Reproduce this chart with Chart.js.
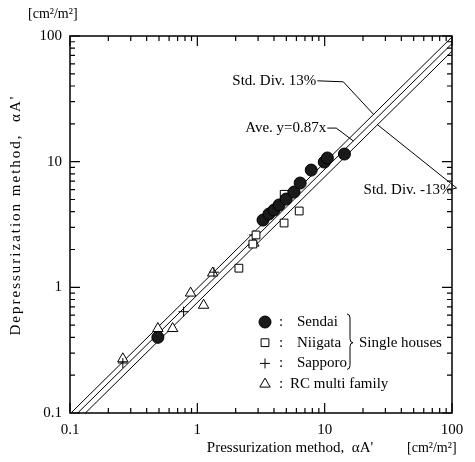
<!DOCTYPE html>
<html>
<head>
<meta charset="utf-8">
<script src="https://cdn.jsdelivr.net/npm/chart.js@4/dist/chart.umd.min.js"></script>
<style>
html,body{margin:0;padding:0;background:#fff;}
#wrap{width:475px;height:462px;}
</style>
</head>
<body>
<div id="wrap"><canvas id="c" width="475" height="462"></canvas></div>
<script>
// ---- data ----
const decadeTicks = [0.1, 1, 10, 100];
const sendaiX = [0.49, 3.28, 3.65, 4.0, 4.38, 4.98, 5.75, 6.42, 7.84, 9.93, 10.5, 14.3];
const sendaiY = [0.40, 3.43, 3.83, 4.12, 4.52, 5.04, 5.73, 6.76, 8.57, 9.93, 10.7, 11.5];
const niigataX = [4.81, 6.31, 4.80, 2.89, 2.73, 2.12];
const niigataY = [5.50, 4.05, 3.25, 2.61, 2.21, 1.42];
const sapporoX = [0.26, 0.78, 1.35, 2.78];
const sapporoY = [0.25, 0.64, 1.32, 2.61];
const rcX = [0.26, 0.49, 0.64, 1.12, 0.885, 1.32, 2.78];
const rcY = [0.27, 0.47, 0.47, 0.72, 0.90, 1.30, 2.25];
const lineEndsX = [0.1, 100];
const lineSlopes = [0.87 * 1.13, 0.87, 0.87 * 0.87]; // +13%, average, -13%
const legendLabels = ['Sendai', 'Niigata', 'Sapporo', 'RC multi family'];
const groupLabel = 'Single houses';
const xTitle = "Pressurization method,  \u03B1A'";
const yTitle = "Depressurization method,  \u03B1A'";
const unitLabel = '[cm\u00B2/m\u00B2]';
// annotation anchors in data coordinates
const annStdPlus = { text: 'Std. Div. 13%', x: 8.6, y: 44, target: 24.2 };
const annAve = { text: 'Ave. y=0.87x', x: 10.3, y: 18.5, target: 16.8 };
const annStdMinus = { text: 'Std. Div. -13%', x: 20.2, y: 5.95, target: 26 };

const pts = (xs, ys) => xs.map((v, i) => ({ x: v, y: ys[i] }));
const FONT = "'Liberation Serif', 'DejaVu Serif', serif";

const lineDatasets = lineSlopes.map(k => ({
  type: 'line',
  data: lineEndsX.map(v => ({ x: v, y: k * v })),
  borderColor: '#000', borderWidth: 1, pointRadius: 0, fill: false, tension: 0, order: 5
}));

const overlay = {
  id: 'overlay',
  afterDatasetsDraw(chart) {
    const ctx = chart.ctx, a = chart.chartArea, xs = chart.scales.x, ys = chart.scales.y;
    ctx.save();
    // frame
    ctx.strokeStyle = '#000';
    ctx.lineWidth = 1.5;
    ctx.strokeRect(a.left, a.top, a.right - a.left, a.bottom - a.top);
    // ticks (inside, all four sides)
    ctx.lineWidth = 1.2;
    const minorVals = [];
    decadeTicks.slice(0, -1).forEach(d => { for (let m = 2; m <= 9; m++) minorVals.push(d * m); });
    const drawTicks = (vals, len) => {
      vals.forEach(v => {
        const px = xs.getPixelForValue(v);
        const py = ys.getPixelForValue(v);
        ctx.beginPath();
        ctx.moveTo(px, a.bottom); ctx.lineTo(px, a.bottom - len);
        ctx.moveTo(px, a.top); ctx.lineTo(px, a.top + len);
        ctx.moveTo(a.left, py); ctx.lineTo(a.left + len, py);
        ctx.moveTo(a.right, py); ctx.lineTo(a.right - len, py);
        ctx.stroke();
      });
    };
    drawTicks(minorVals, 5);
    drawTicks(decadeTicks, 10);

    // axis titles
    ctx.fillStyle = '#000';
    ctx.font = '15px ' + FONT;
    ctx.textBaseline = 'middle';
    ctx.textAlign = 'center';
    ctx.fillText(xTitle, 290, a.bottom + 35);
    ctx.textAlign = 'left';
    ctx.font = '14px ' + FONT;
    ctx.fillText(unitLabel, a.right - 45, a.bottom + 35);
    ctx.fillText(unitLabel, a.left - 42, a.top - 22);
    ctx.save();
    ctx.font = '15px ' + FONT;
    ctx.translate(16, 215);
    ctx.rotate(-Math.PI / 2);
    ctx.textAlign = 'center';
    if ('letterSpacing' in ctx) ctx.letterSpacing = '2px';
    ctx.fillText(yTitle, 0, 0);
    ctx.restore();

    // annotations
    ctx.font = '15px ' + FONT;
    ctx.lineWidth = 1;
    ctx.strokeStyle = '#000';
    const linePt = (k, xv) => [xs.getPixelForValue(xv), ys.getPixelForValue(k * xv)];
    // +13%
    let tx = xs.getPixelForValue(annStdPlus.x), ty = ys.getPixelForValue(annStdPlus.y);
    ctx.textAlign = 'right';
    ctx.fillText(annStdPlus.text, tx, ty);
    let p = linePt(lineSlopes[0], annStdPlus.target);
    ctx.beginPath();
    ctx.moveTo(tx + 1, ty); ctx.lineTo(tx + 27, ty + 1); ctx.lineTo(p[0], p[1]);
    ctx.stroke();
    // average
    tx = xs.getPixelForValue(annAve.x); ty = ys.getPixelForValue(annAve.y);
    ctx.fillText(annAve.text, tx, ty);
    p = linePt(lineSlopes[1], annAve.target);
    ctx.beginPath();
    ctx.moveTo(tx + 1, ty); ctx.lineTo(tx + 10, ty); ctx.lineTo(p[0], p[1]);
    ctx.stroke();
    // -13%
    tx = xs.getPixelForValue(annStdMinus.x); ty = ys.getPixelForValue(annStdMinus.y);
    ctx.textAlign = 'left';
    ctx.fillText(annStdMinus.text, tx, ty);
    const tw = ctx.measureText(annStdMinus.text).width;
    p = linePt(lineSlopes[2], annStdMinus.target);
    ctx.beginPath();
    ctx.moveTo(tx + tw, ty - 1); ctx.lineTo(tx + tw + 4, ty - 2); ctx.lineTo(p[0], p[1]);
    ctx.stroke();

    // legend
    const lx = a.left + 195, ly0 = a.top + 286, dy = 20.7;
    const ds = chart.data.datasets;
    for (let i = 0; i < 4; i++) {
      const y = ly0 + i * dy;
      const d = ds[i];
      ctx.fillStyle = d.backgroundColor; ctx.strokeStyle = d.borderColor; ctx.lineWidth = d.borderWidth;
      Chart.helpers.drawPoint(ctx, {
        pointStyle: d.pointStyle, radius: d.pointRadius, rotation: 0, borderWidth: d.borderWidth
      }, lx, y);
      ctx.fillStyle = '#000';
      ctx.textAlign = 'left';
      ctx.fillText(':', lx + 14, y);
      ctx.fillText(legendLabels[i], i === 3 ? lx + 25 : lx + 32, y);
    }
    // brace for single houses
    const bx = lx + 85, btop = ly0 - 8, bbot = ly0 + 2 * dy + 6, bmid = ly0 + dy;
    ctx.strokeStyle = '#000'; ctx.lineWidth = 1;
    ctx.beginPath();
    ctx.moveTo(bx - 3, btop);
    ctx.quadraticCurveTo(bx, btop, bx, btop + 4);
    ctx.lineTo(bx, bmid - 4);
    ctx.quadraticCurveTo(bx, bmid, bx + 3, bmid);
    ctx.quadraticCurveTo(bx, bmid, bx, bmid + 4);
    ctx.lineTo(bx, bbot - 4);
    ctx.quadraticCurveTo(bx, bbot, bx - 3, bbot);
    ctx.stroke();
    ctx.fillText(groupLabel, bx + 9, bmid);
    ctx.restore();
  }
};

new Chart(document.getElementById('c'), {
  type: 'scatter',
  data: {
    datasets: [
      { label: legendLabels[0], data: pts(sendaiX, sendaiY), pointStyle: 'circle', pointRadius: 6,
        backgroundColor: '#1a1a1a', borderColor: '#000', borderWidth: 1, order: 1 },
      { label: legendLabels[1], data: pts(niigataX, niigataY), pointStyle: 'rect', pointRadius: 5.5,
        backgroundColor: '#fff', borderColor: '#000', borderWidth: 1, order: 2 },
      { label: legendLabels[2], data: pts(sapporoX, sapporoY), pointStyle: 'cross', pointRadius: 5,
        backgroundColor: '#000', borderColor: '#000', borderWidth: 1, order: 3 },
      { label: legendLabels[3], data: pts(rcX, rcY), pointStyle: 'triangle', pointRadius: 6,
        backgroundColor: '#fff', borderColor: '#000', borderWidth: 1, order: 4 },
      ...lineDatasets
    ]
  },
  options: {
    responsive: false,
    animation: false,
    layout: { padding: { left: 0, top: 36, right: 23, bottom: 0 } },
    plugins: { legend: { display: false }, tooltip: { enabled: false } },
    scales: {
      x: {
        type: 'logarithmic', min: 0.1, max: 100,
        grid: { display: false, drawTicks: false }, border: { display: false },
        afterBuildTicks: s => { s.ticks = decadeTicks.map(v => ({ value: v })); },
        afterFit: s => { s.height = 49; },
        ticks: { color: '#000', font: { family: FONT, size: 15 }, padding: 8, maxRotation: 0,
          callback: v => String(v) }
      },
      y: {
        type: 'logarithmic', min: 0.1, max: 100,
        grid: { display: false, drawTicks: false }, border: { display: false },
        afterBuildTicks: s => { s.ticks = decadeTicks.map(v => ({ value: v })); },
        afterFit: s => { s.width = 70; },
        ticks: { color: '#000', font: { family: FONT, size: 15 }, padding: 8,
          callback: v => String(v) }
      }
    }
  },
  plugins: [overlay]
});
</script>
</body>
</html>
